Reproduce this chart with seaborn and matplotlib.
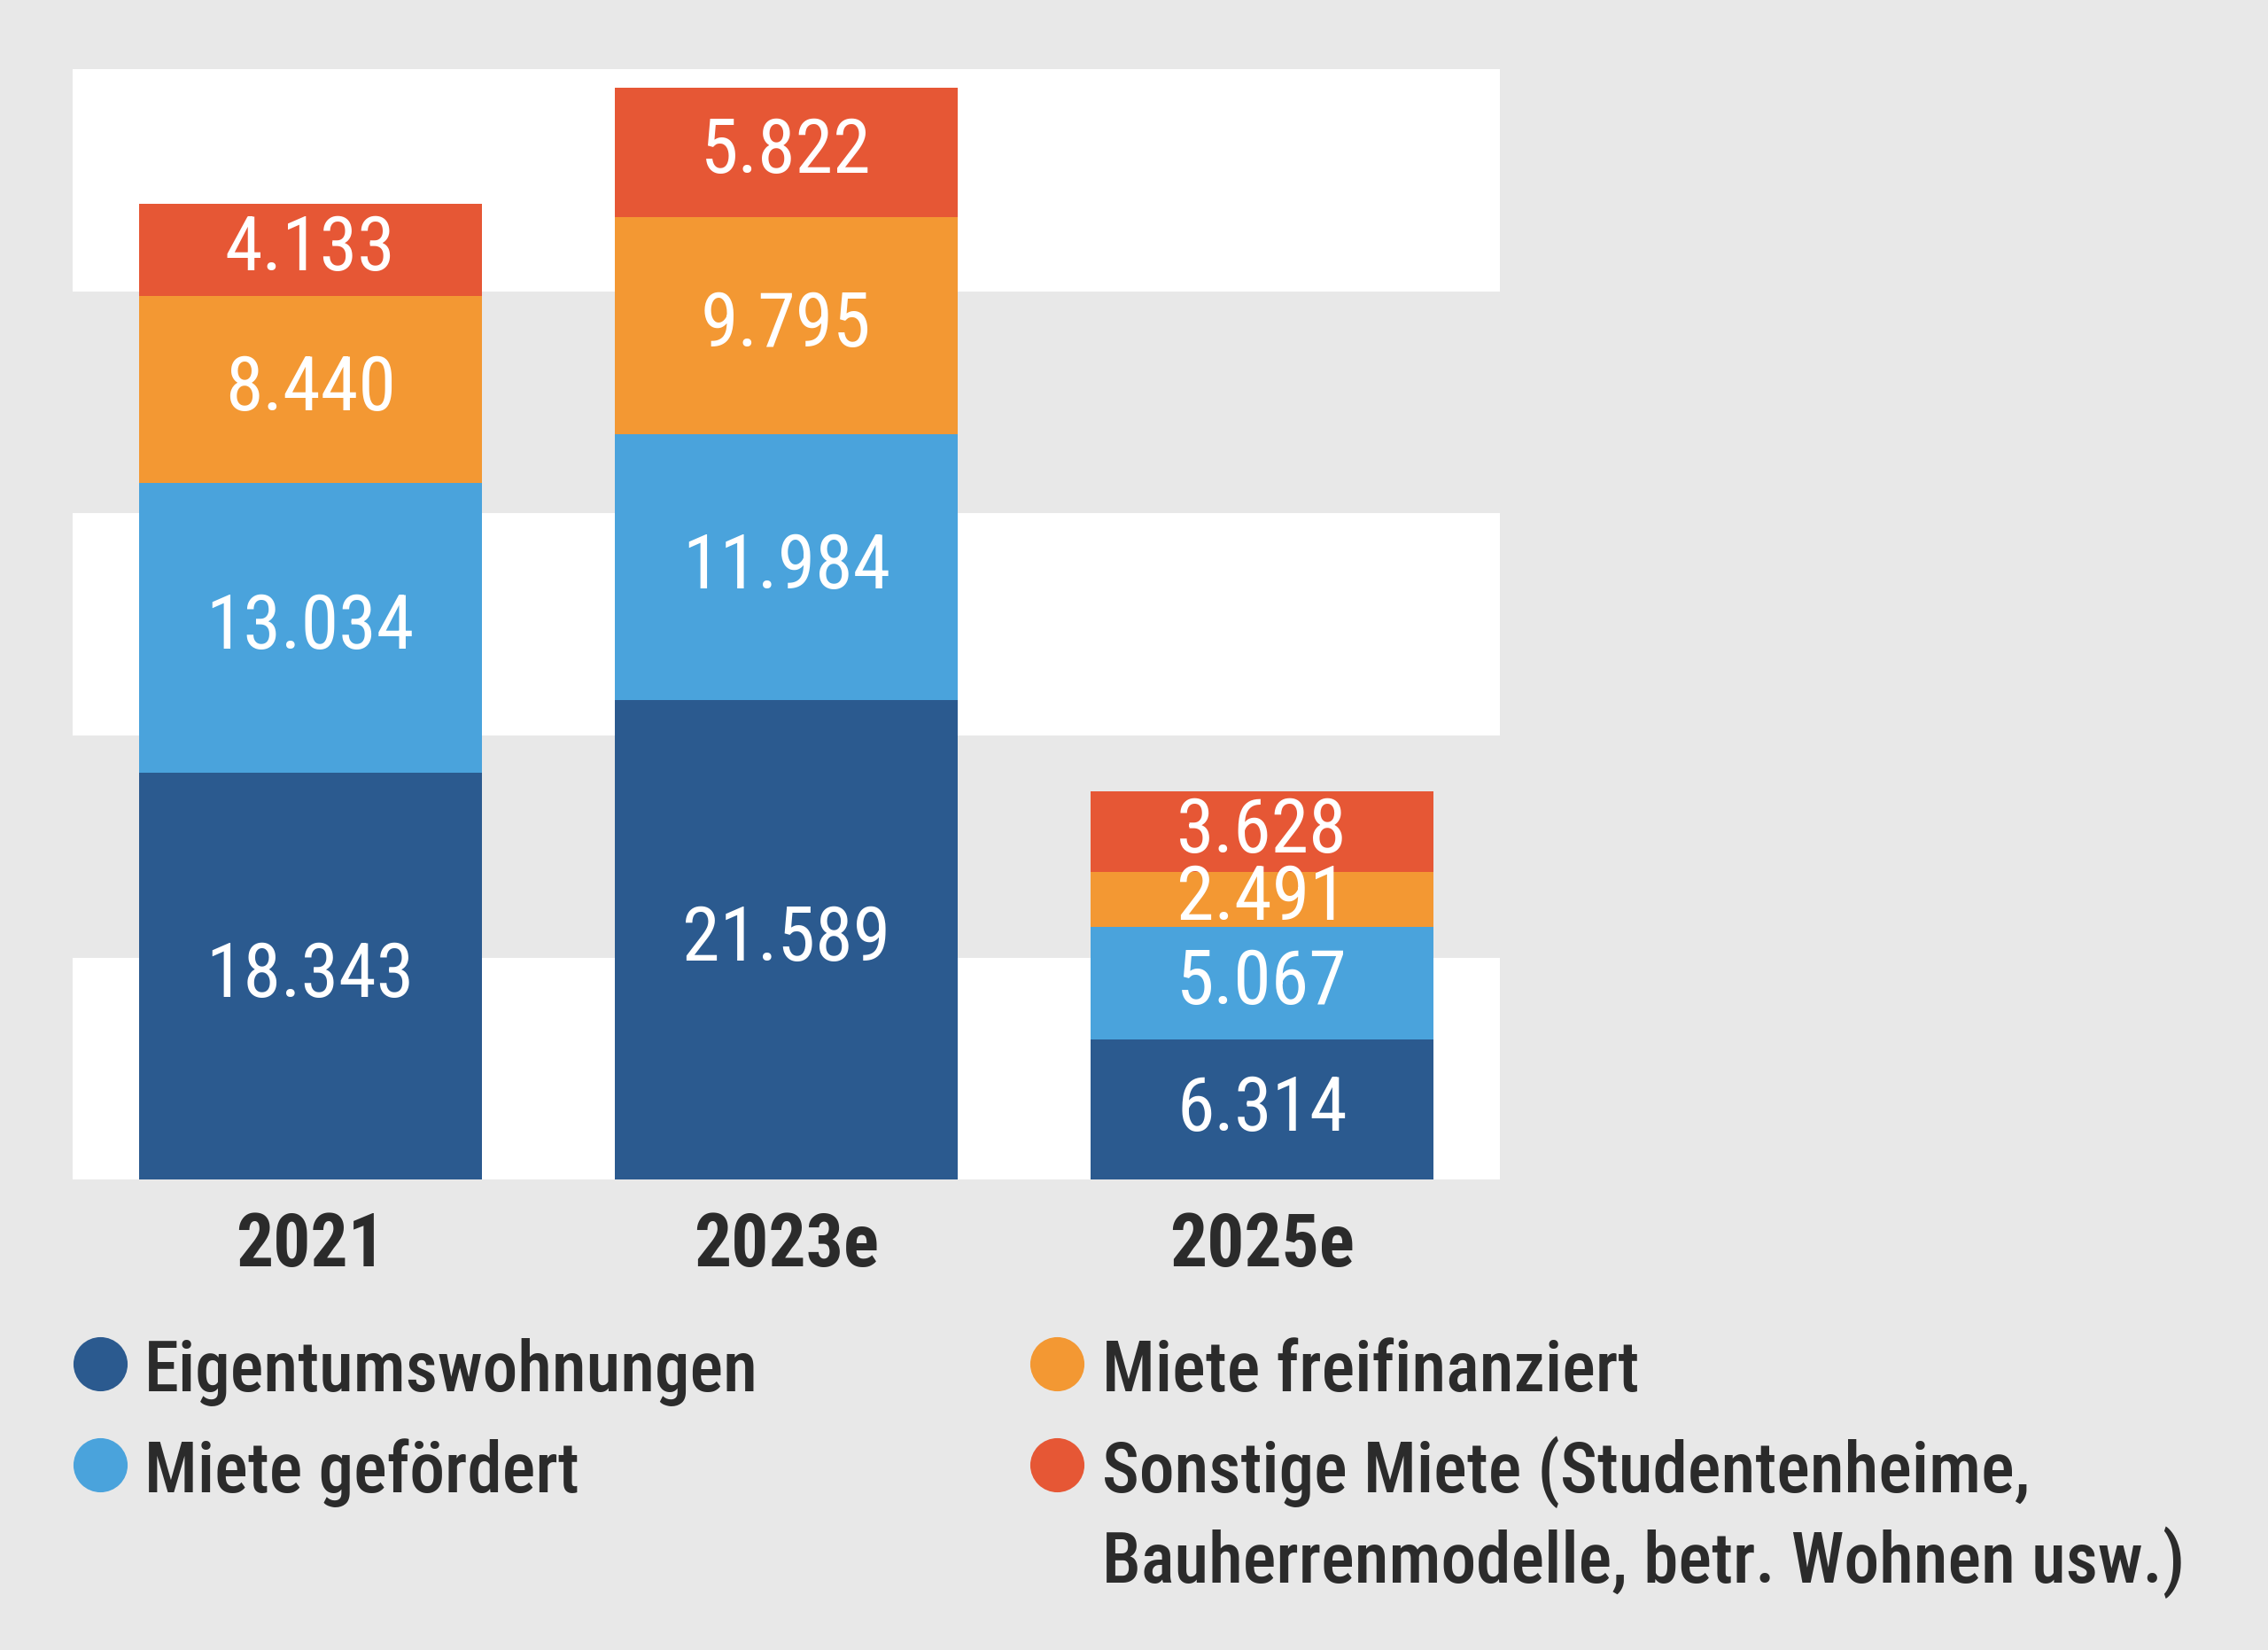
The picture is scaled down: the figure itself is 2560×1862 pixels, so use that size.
import matplotlib
matplotlib.use('Agg')
import matplotlib.pyplot as plt
import seaborn as sns
from matplotlib import font_manager
from matplotlib.lines import Line2D

# ── DATA ─────────────────────────────────────────────
years = ["2021", "2023e", "2025e"]
eigentum = [18343, 21589, 6314]
miete_gefoerdert = [13034, 11984, 5067]
miete_frei = [8440, 9795, 2491]
sonstige = [4133, 5822, 3628]

series_names = [
    "Eigentumswohnungen",
    "Miete gefördert",
    "Miete freifinanziert",
    "Sonstige Miete (Studentenheime,\nBauherrenmodelle, betr. Wohnen usw.)",
]
series_values = [eigentum, miete_gefoerdert, miete_frei, sonstige]
colors = ["#2b5a8f", "#4aa3dc", "#f39833", "#e65735"]

BG = "#e8e8e8"
DARK = "#2b2b2b"

sns.set_theme(style="white")

# condensed face if there is one
names = {f.name for f in font_manager.fontManager.ttflist}
font = "Roboto"
for cand in ["Roboto Condensed", "Liberation Sans Narrow", "Archivo Narrow"]:
    if cand in names:
        font = cand
        break
plt.rcParams['font.family'] = [font, 'DejaVu Sans']

fig = plt.figure(figsize=(12.8, 9.31), dpi=200, facecolor=BG)
ax = fig.add_axes([0.0319, 0.2851, 0.6295, 0.6728])
ax.set_facecolor(BG)

# alternating white bands
for lo in (0, 20000, 40000):
    ax.axhspan(lo, lo + 10000, color="white", lw=0, zorder=0)

bottoms = [0, 0, 0]
for name, vals, col in zip(series_names, series_values, colors):
    sns.barplot(x=years, y=vals, bottom=bottoms, color=col, width=0.72,
                errorbar=None, saturation=1, linewidth=0, ax=ax, zorder=2)
    for i, v in enumerate(vals):
        ax.text(i, bottoms[i] + v / 2, f"{v:,}".replace(",", "."),
                ha="center", va="center", color="white", fontsize=31,
                zorder=3)
    bottoms = [b + v for b, v in zip(bottoms, vals)]

ax.set_xlim(-0.5, 2.5)
ax.set_ylim(0, 50000)
ax.set_yticks([])
ax.set_ylabel("")
ax.set_xlabel("")
for s in ax.spines.values():
    s.set_visible(False)
ax.tick_params(axis="x", length=0, pad=13, labelsize=30, labelcolor=DARK)
for lbl in ax.get_xticklabels():
    lbl.set_fontweight("bold")

# ── LEGEND (manual, two columns) ─────────────────────
legend_pos = [
    (0.044, 0.0638, 0.157),
    (0.044, 0.0638, 0.0956),
    (0.4662, 0.486, 0.157),
    (0.4662, 0.486, 0.0956),
]
for (mx, tx, ty), name, col in zip(legend_pos, series_names, colors):
    fig.add_artist(Line2D([mx], [ty + 0.0165], marker="o", markersize=21,
                          color=col, lw=0, transform=fig.transFigure))
    for k, line in enumerate(name.split("\n")):
        fig.text(tx, ty - k * 0.0545, line, ha="left", va="baseline",
                 fontsize=28.5, fontweight="medium", color=DARK)

fig.savefig("out.png", dpi=200, facecolor=BG)
plt.close()
